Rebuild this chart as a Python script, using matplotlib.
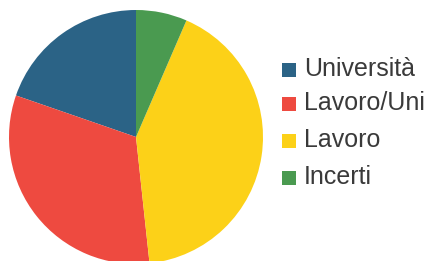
import matplotlib
matplotlib.use("Agg")
import matplotlib.pyplot as plt
from matplotlib.patches import Rectangle

categories = ["Università", "Lavoro/Uni", "Lavoro", "Incerti"]
values = [19.7, 32.0, 41.8, 6.5]
colors = ["#2b6386", "#ee4a40", "#fcd118", "#4a9a50"]

plt.rcParams['font.family'] = ['Liberation Sans', 'DejaVu Sans']
fig = plt.figure(figsize=(4.30, 2.61), dpi=100)
ax = fig.add_axes([9/430, -3/261, 254/430, 254/261])
wedges, _ = ax.pie(values, colors=colors, startangle=90, counterclock=True,
                   wedgeprops=dict(linewidth=0))
ax.set_xlim(-1, 1)
ax.set_ylim(-1, 1)
ax.set_aspect('equal')

ys = [70, 104, 141, 178]
for i, (lab, c) in enumerate(zip(categories, colors)):
    y = 261 - ys[i]
    fig.patches.append(Rectangle((282/430, (y - 7)/261), 14/430, 14/261,
                                 transform=fig.transFigure, facecolor=c,
                                 edgecolor='none'))
    fig.text(304/430, (y + 1)/261, lab, fontsize=18, color='#3a3a3a',
             va='center', ha='left')

fig.savefig("out.png", dpi=100)
